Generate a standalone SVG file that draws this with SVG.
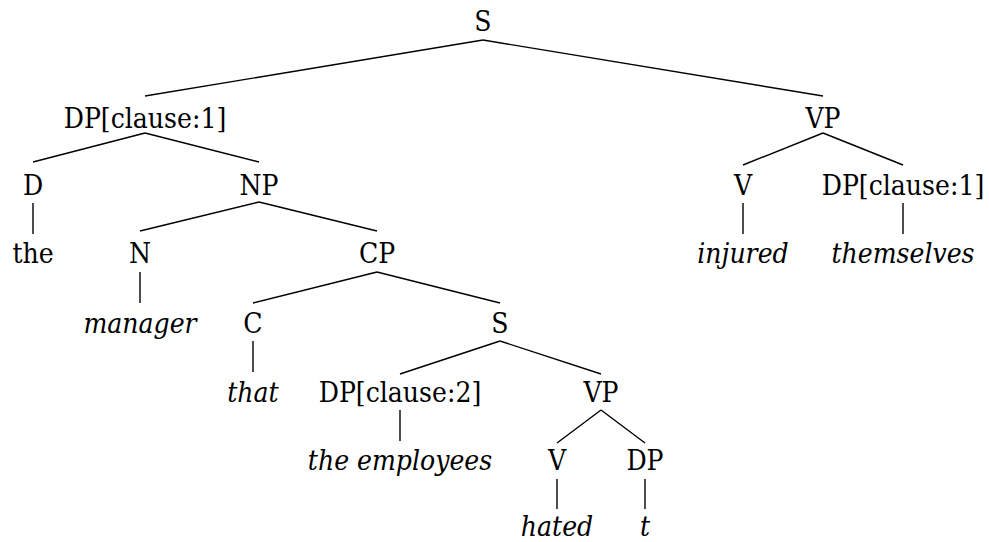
<svg xmlns="http://www.w3.org/2000/svg" width="989" height="542" viewBox="0 0 989 542">
<style>
.i{font-style:italic}
.t{font-family:'DejaVu Serif Condensed','DejaVu Serif','Liberation Serif',serif;font-stretch:condensed;font-size:28px;fill:#000;text-anchor:middle}
#edges line{stroke:#000;stroke-width:1.4}
</style>
<rect width="989" height="542" fill="#fff"/>
<g id="edges">
<line x1="483" y1="40" x2="145" y2="96"/>
<line x1="483" y1="40" x2="823" y2="96"/>
<line x1="145" y1="133" x2="33" y2="162"/>
<line x1="145" y1="133" x2="259" y2="162"/>
<line x1="33" y1="203" x2="33" y2="234"/>
<line x1="259" y1="202" x2="140" y2="231"/>
<line x1="259" y1="202" x2="377" y2="231"/>
<line x1="140" y1="272" x2="140" y2="303"/>
<line x1="377" y1="272" x2="253" y2="303"/>
<line x1="377" y1="272" x2="500" y2="303"/>
<line x1="253" y1="341" x2="253" y2="372"/>
<line x1="500" y1="341" x2="400" y2="374"/>
<line x1="500" y1="341" x2="601" y2="374"/>
<line x1="400" y1="410" x2="400" y2="441"/>
<line x1="601" y1="410" x2="557" y2="443"/>
<line x1="601" y1="410" x2="645" y2="443"/>
<line x1="557" y1="479" x2="557" y2="509"/>
<line x1="645" y1="479" x2="645" y2="509"/>
<line x1="823" y1="133" x2="743" y2="165"/>
<line x1="823" y1="133" x2="903" y2="165"/>
<line x1="743" y1="203" x2="743" y2="234"/>
<line x1="903" y1="203" x2="903" y2="234"/>
</g>
<g class="t">
<g id="n_S"><text x="483" y="31">S</text></g>
<g id="n_DP1"><text x="145" y="128">DP[clause:1]</text></g>
<g id="n_VP1"><text x="823" y="128">VP</text></g>
<g id="n_D"><text x="33" y="195">D</text></g>
<g id="n_NP"><text x="259" y="195">NP</text></g>
<g id="n_V1"><text x="743" y="195">V</text></g>
<g id="n_DP1b"><text x="903" y="195">DP[clause:1]</text></g>
<g id="n_the"><text x="33" y="263">the</text></g>
<g id="n_N"><text x="140" y="263">N</text></g>
<g id="n_CP"><text x="377" y="263">CP</text></g>
<g id="n_injured"><text class="i" x="743" y="263">injured</text></g>
<g id="n_themselves"><text class="i" x="903" y="263">themselves</text></g>
<g id="n_manager"><text class="i" x="140" y="333">manager</text></g>
<g id="n_C"><text x="253" y="333">C</text></g>
<g id="n_S2"><text x="500" y="333">S</text></g>
<g id="n_that"><text class="i" x="253" y="402">that</text></g>
<g id="n_DP2"><text x="400" y="402">DP[clause:2]</text></g>
<g id="n_VP2"><text x="601" y="402">VP</text></g>
<g id="n_employees"><text class="i" x="400" y="470">the employees</text></g>
<g id="n_V2"><text x="557" y="470">V</text></g>
<g id="n_DP3"><text x="645" y="470">DP</text></g>
<g id="n_hated"><text class="i" x="557" y="536">hated</text></g>
<g id="n_t"><text class="i" x="645" y="536">t</text></g>
</g>
</svg>
